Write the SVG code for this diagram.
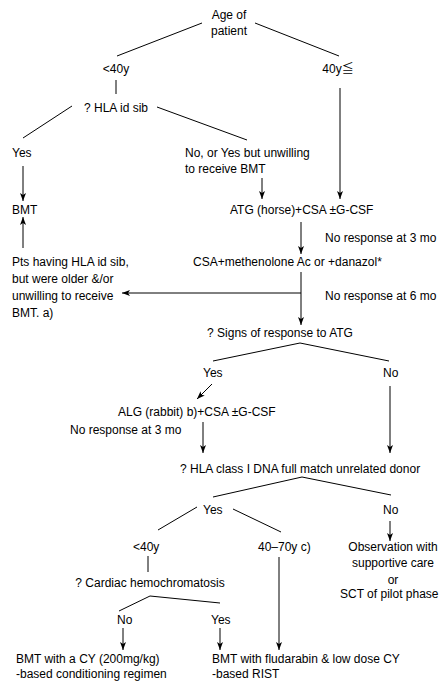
<svg xmlns="http://www.w3.org/2000/svg" width="440" height="682" viewBox="0 0 440 682">
<style>
text{font-family:"Liberation Sans","Noto Sans CJK JP",sans-serif;font-size:12px;fill:#000}
.m{text-anchor:middle}
.c line,.c polyline{stroke:#000;stroke-width:1;fill:none}
.a{marker-end:url(#ah)}
</style>
<defs>
<marker id="ah" viewBox="0 0 8 8" refX="8" refY="4" markerWidth="8" markerHeight="8" markerUnits="userSpaceOnUse" orient="auto">
<path d="M0,1 L8,4 L0,7 L2,4 z" fill="#000"/>
</marker>
</defs>
<rect width="440" height="682" fill="#fff"/>
<g class="c" id="connectors">
<line x1="202" y1="23" x2="117" y2="56"/>
<line x1="255" y1="23" x2="339" y2="56"/>
<line x1="116" y1="80" x2="116" y2="94"/>
<line class="a" x1="340" y1="88" x2="340" y2="199"/>
<line x1="72" y1="106" x2="23" y2="138"/>
<line x1="157" y1="107" x2="247" y2="140"/>
<line class="a" x1="23" y1="166" x2="23" y2="201"/>
<line class="a" x1="262" y1="178" x2="262" y2="199"/>
<line class="a" x1="23" y1="248" x2="23" y2="217"/>
<line class="a" x1="301" y1="222" x2="301" y2="254"/>
<line class="a" x1="301" y1="272" x2="301" y2="325"/>
<line class="a" x1="301" y1="293" x2="122" y2="293"/>
<polyline points="213,361 300,343 389,361"/>
<line class="a" x1="212" y1="384" x2="197" y2="399"/>
<line class="a" x1="203" y1="422" x2="203" y2="453"/>
<line class="a" x1="390" y1="386" x2="390" y2="453"/>
<polyline points="213,497 302,477 391,495"/>
<line x1="197" y1="507" x2="158" y2="530"/>
<line x1="233" y1="509" x2="281" y2="532"/>
<line class="a" x1="390" y1="521" x2="390" y2="541"/>
<line x1="148" y1="556" x2="148" y2="572"/>
<polyline points="119,611 150,596 220,603"/>
<line class="a" x1="123" y1="628" x2="123" y2="650"/>
<line class="a" x1="220" y1="628" x2="220" y2="650"/>
<line class="a" x1="279" y1="557" x2="279" y2="650"/>
</g>
<g id="age"><text class="m" x="229" y="19">Age of</text><text class="m" x="229" y="35">patient</text></g>
<g id="young"><text class="m" x="116" y="73">&lt;40y</text></g>
<g id="old"><text class="m" x="338" y="73">40y≦</text></g>
<g id="hlasib"><text class="m" x="116" y="112">? HLA id sib</text></g>
<g id="yes1"><text x="12" y="157">Yes</text></g>
<g id="no1"><text x="185" y="157">No, or Yes but unwilling</text><text x="185" y="173">to receive BMT</text></g>
<g id="bmt"><text x="12" y="214">BMT</text></g>
<g id="atg"><text x="230" y="214">ATG (horse)+CSA ±G-CSF</text></g>
<g id="nr3"><text x="325" y="242">No response at 3 mo</text></g>
<g id="csa"><text x="193" y="266">CSA+methenolone Ac or +danazol*</text></g>
<g id="pts"><text x="12" y="266">Pts having HLA id sib,</text><text x="12" y="283">but were older &amp;/or</text><text x="12" y="300">unwilling to receive</text><text x="12" y="317">BMT. a)</text></g>
<g id="nr6"><text x="325" y="300">No response at 6 mo</text></g>
<g id="signs"><text class="m" x="280" y="337">? Signs of response to ATG</text></g>
<g id="yes2"><text x="203" y="377">Yes</text></g>
<g id="no2"><text x="383" y="377">No</text></g>
<g id="alg"><text x="118" y="416">ALG (rabbit) b)+CSA ±G-CSF</text></g>
<g id="nr3b"><text x="70" y="434">No response at 3 mo</text></g>
<g id="hlaclass"><text x="180" y="473">? HLA class I DNA full match unrelated donor</text></g>
<g id="yes3"><text x="203" y="514">Yes</text></g>
<g id="no3"><text x="383" y="514">No</text></g>
<g id="young2"><text x="133" y="551">&lt;40y</text></g>
<g id="mid"><text x="258" y="551">40–70y c)</text></g>
<g id="obs"><text class="m" x="393" y="551">Observation with</text><text class="m" x="393" y="567">supportive care</text><text class="m" x="393" y="584">or</text><text x="340" y="598">SCT of pilot phase</text></g>
<g id="cardiac"><text class="m" x="150" y="587">? Cardiac hemochromatosis</text></g>
<g id="no4"><text x="117" y="624">No</text></g>
<g id="yes4"><text x="211" y="624">Yes</text></g>
<g id="bmtcy"><text x="16" y="663">BMT with a CY (200mg/kg)</text><text x="16" y="678">-based conditioning regimen</text></g>
<g id="bmtflu"><text x="212" y="663">BMT with fludarabin &amp; low dose CY</text><text x="212" y="678">-based RIST</text></g>
</svg>
